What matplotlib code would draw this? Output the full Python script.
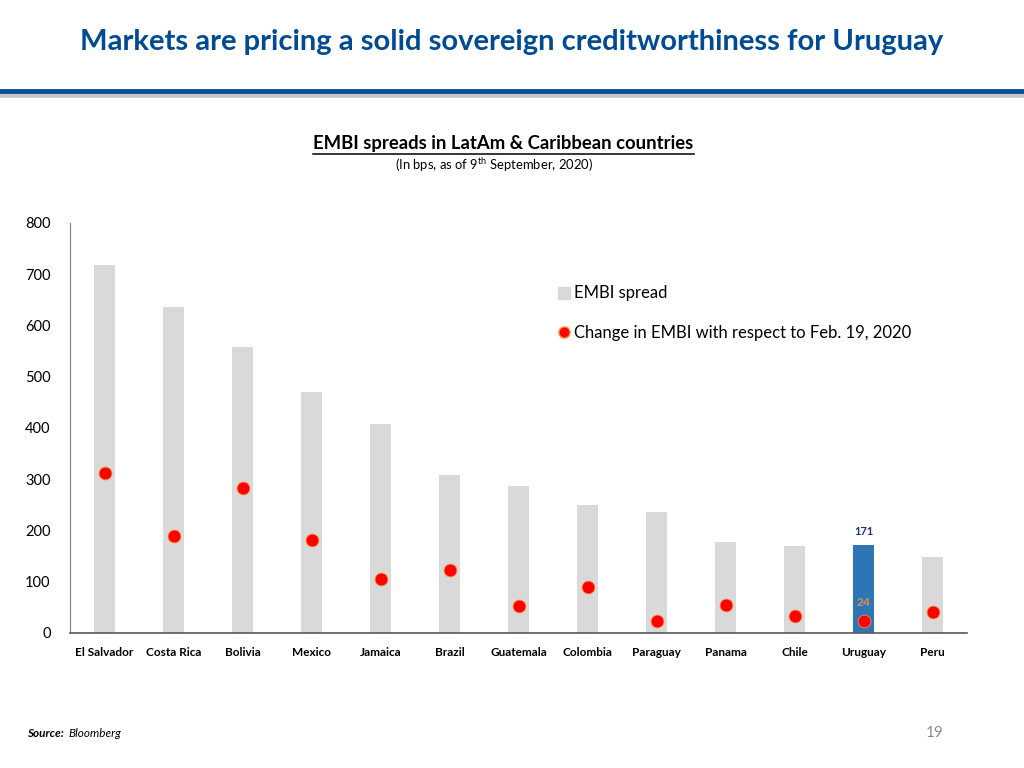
import matplotlib.pyplot as plt
from matplotlib.lines import Line2D

countries = ['El Salvador', 'Costa Rica', 'Bolivia', 'Mexico', 'Jamaica', 'Brazil',
             'Guatemala', 'Colombia', 'Paraguay', 'Panama', 'Chile', 'Uruguay', 'Peru']
embi_spread = [718, 636, 558, 470, 408, 308, 287, 250, 236, 178, 170, 171, 148]
embi_change = [312, 189, 283, 181, 105, 123, 53, 90, 23, 55, 33, 24, 41]
y_ticks = [0, 100, 200, 300, 400, 500, 600, 700, 800]

plt.rcParams['font.family'] = ['Lato', 'DejaVu Sans']
plt.rcParams['mathtext.fontset'] = 'custom'
plt.rcParams['mathtext.rm'] = 'Lato'

fig = plt.figure(figsize=(10.24, 7.68), dpi=100)

# header
fig.text(0.5, 0.945, 'Markets are pricing a solid sovereign creditworthiness for Uruguay',
         ha='center', va='center', fontsize=21, fontweight='bold', color='#004b93')
fig.add_artist(Line2D([0, 1], [0.876, 0.876], color='#c8c8c8', lw=4, transform=fig.transFigure))
fig.add_artist(Line2D([0, 1], [0.882, 0.882], color='#0b4e96', lw=3.5, transform=fig.transFigure))

# chart titles
ttl = fig.text(0.4917, 0.813, 'EMBI spreads in LatAm & Caribbean countries', ha='center', va='center',
               fontsize=13.3, fontweight='bold', color='black')
fig.canvas.draw()
bb = ttl.get_window_extent().transformed(fig.transFigure.inverted())
fig.add_artist(Line2D([bb.x0, bb.x1], [0.8, 0.8], color='black', lw=1.1, transform=fig.transFigure))
fig.text(0.482, 0.785, r'(In bps, as of 9$^{\mathrm{th}}$ September, 2020)', ha='center', va='center',
         fontsize=9.4, color='black')

ax = fig.add_axes([0.0684, 0.1758, 0.876, 0.5339])
x = list(range(len(countries)))
bar_colors = ['#2e75b6' if c == 'Uruguay' else '#d9d9d9' for c in countries]
bars = ax.bar(x, embi_spread, width=0.31, color=bar_colors, zorder=2, label='EMBI spread')
dots = ax.scatter(x, embi_change, s=85, color='#ff0000', edgecolors='#ff8c3a', linewidths=0.6,
                  zorder=3, label='Change in EMBI with respect to Feb. 19, 2020')

uy = countries.index('Uruguay')
ax.text(uy, embi_spread[uy] + 27, str(embi_spread[uy]), ha='center', va='center',
        fontsize=8, fontweight='bold', color='#1f3864')
ax.text(uy, embi_change[uy] + 36, str(embi_change[uy]), ha='center', va='center',
        fontsize=8.5, fontweight='heavy', color='#c08f5f')

ax.set_xlim(-0.5, len(countries) - 0.5)
ax.set_ylim(0, 800)
ax.set_yticks(y_ticks)
ax.tick_params(axis='y', length=0, labelsize=10.5, pad=14)
ax.set_xticks(x)
ax.set_xticklabels(countries, fontsize=8.5, fontweight='bold')
ax.tick_params(axis='x', length=0, pad=10)
for s in ['top', 'right']:
    ax.spines[s].set_visible(False)
ax.spines['left'].set_color('#808080')
ax.spines['bottom'].set_color('#595959')
ax.spines['bottom'].set_linewidth(1.2)

square = Line2D([], [], marker='s', color='#d9d9d9', linestyle='none', markersize=8)
circle = Line2D([], [], marker='o', color='#ff0000', markeredgecolor='#ff8c3a',
                linestyle='none', markersize=8)
fig.legend([square, circle], ['EMBI spread', 'Change in EMBI with respect to Feb. 19, 2020'],
           loc='upper left', bbox_to_anchor=(0.531, 0.648), frameon=False, fontsize=12,
           labelspacing=1.4, handlelength=0.6, handletextpad=0.3)

fig.text(0.026, 0.045, 'Source:', fontsize=8.5, fontweight='bold', style='italic', va='center')
fig.text(0.067, 0.045, 'Bloomberg', fontsize=8.5, style='italic', va='center')
fig.text(0.913, 0.045, '19', fontsize=11, color='#8c8c8c', va='center', ha='center')

fig.savefig('out.png', dpi=100)
